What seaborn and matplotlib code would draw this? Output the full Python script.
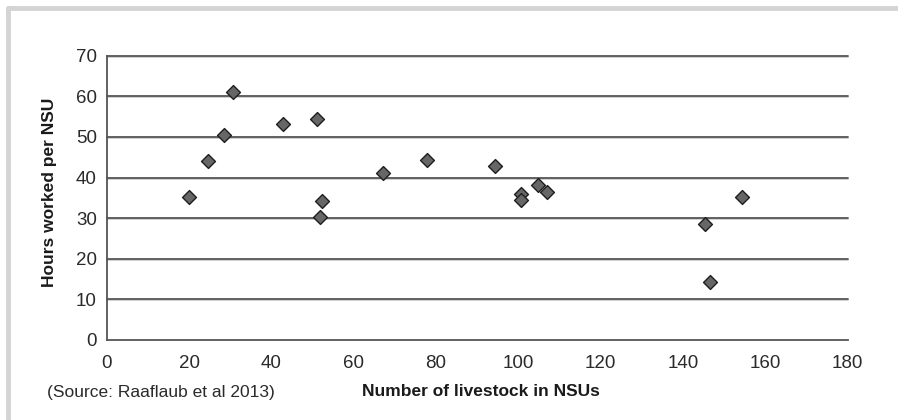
"""
plot.py

Scatter of hours worked per NSU against herd size (NSUs),
redrawn from Raaflaub et al 2013.
"""

import matplotlib
matplotlib.use("Agg")

import pandas as pd
import matplotlib.pyplot as plt
import seaborn as sns
from matplotlib.lines import Line2D


# =============================================================================
# DATA
# =============================================================================

livestock_nsu = [20.1, 24.5, 28.6, 30.6, 42.9, 51.1, 52.4, 51.8, 67.2, 77.9,
                 94.4, 100.7, 100.7, 104.7, 106.9, 145.4, 146.5, 154.3]
hours_per_nsu = [35.1, 44.1, 50.5, 61.0, 53.3, 54.4, 34.2, 30.3, 41.2, 44.3,
                 42.8, 36.0, 34.5, 38.2, 36.5, 28.5, 14.3, 35.2]

x_ticks = [0, 20, 40, 60, 80, 100, 120, 140, 160, 180]
y_ticks = [0, 10, 20, 30, 40, 50, 60, 70]

x_label = "Number of livestock in NSUs"
y_label = "Hours worked per NSU"
source_note = "(Source: Raaflaub et al 2013)"


# =============================================================================
# STYLE
# =============================================================================

sns.set_style("white")
plt.rcParams["font.family"] = ["Liberation Sans", "DejaVu Sans"]

GRID_COLOR = "#555555"
TEXT_COLOR = "#2a2a2a"


# =============================================================================
# PLOT
# =============================================================================

df = pd.DataFrame({"nsu": livestock_nsu, "hours": hours_per_nsu})

fig = plt.figure(figsize=(8.98, 4.2), dpi=100)
ax = fig.add_axes([106.7 / 898, 1 - 340 / 420, 741 / 898, 284.3 / 420])

# gridlines with a faint light line under each one
for y in y_ticks[1:]:
    ax.axhline(y - 0.25, color="#c8c8c8", lw=1.2, zorder=0, clip_on=False)
    ax.axhline(y, color=GRID_COLOR, lw=1.3, zorder=1, clip_on=False)

sns.scatterplot(
    data=df,
    x="nsu",
    y="hours",
    marker="D",
    s=50,
    color="#666666",
    edgecolor="#1e1e1e",
    linewidth=1.0,
    zorder=3,
    ax=ax
)

ax.set_xlim(0, 180)
ax.set_ylim(0, 70)
ax.set_xticks(x_ticks)
ax.set_yticks(y_ticks)
ax.set_xticklabels([str(t) for t in x_ticks])
ax.set_yticklabels([str(t) for t in y_ticks])

ax.tick_params(axis="both", direction="out", length=5, width=1,
               color=GRID_COLOR, labelsize=13.5, labelcolor=TEXT_COLOR)
ax.tick_params(axis="x", pad=6)
ax.tick_params(axis="y", pad=2)

for side in ["top", "right"]:
    ax.spines[side].set_visible(False)
for side in ["left", "bottom"]:
    ax.spines[side].set_color(GRID_COLOR)
    ax.spines[side].set_linewidth(1.3)

ax.set_xlabel("")
ax.set_ylabel("")

label_font = dict(fontsize=12.5, fontweight="bold", color="#1a1a1a")

fig.text(481 / 898, 1 - 392 / 420, x_label, ha="center", va="center", **label_font)
fig.text(50 / 898, 1 - 192 / 420, y_label, ha="center", va="center",
         rotation=90, **label_font)
fig.text(47 / 898, 1 - 392 / 420, source_note, ha="left", va="center",
         fontsize=12.5, color=TEXT_COLOR)

# light grey frame on top and left
fig.add_artist(Line2D([8 / 898, 1], [1 - 8 / 420, 1 - 8 / 420],
                      color="#d4d4d4", lw=3.5, transform=fig.transFigure))
fig.add_artist(Line2D([8 / 898, 8 / 898], [1 - 8 / 420, 0],
                      color="#d4d4d4", lw=3.5, transform=fig.transFigure))

fig.savefig("out.png", dpi=100)
